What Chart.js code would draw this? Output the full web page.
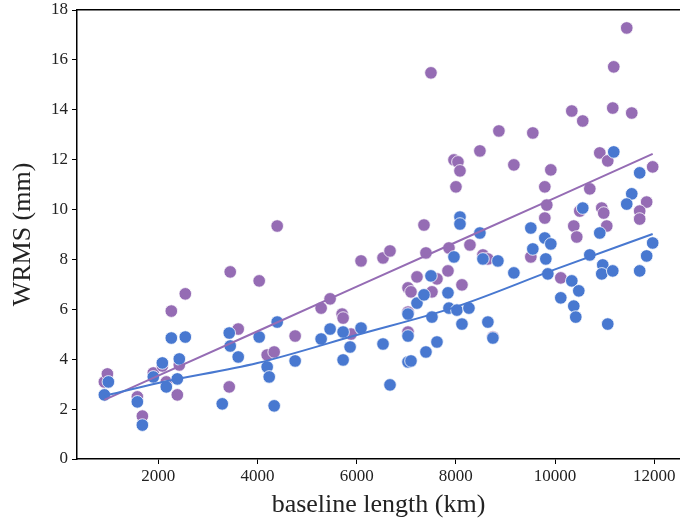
<!DOCTYPE html>
<html>
<head>
<meta charset="utf-8">
<script src="https://cdn.jsdelivr.net/npm/chart.js@4/dist/chart.umd.min.js"></script>
<style>
  html, body { margin: 0; padding: 0; background: #fff; }
  #wrap { width: 680px; height: 523px; }
</style>
</head>
<body>
<div id="wrap"><canvas id="myChart" width="680" height="523"></canvas></div>
<script>
// purple series (baseline km, WRMS mm)
const purpleX = [912, 973, 1577, 1678, 1899, 2081, 2161, 2383, 2423, 2262, 2544, 3450, 4034, 3430, 3611, 4195, 4336, 4397, 4759, 5283,
  5464, 5706, 5726, 5887, 6088, 6531, 6672, 7035, 7095, 7216, 7619, 7518, 7841, 8123, 7035, 7035, 7357, 7397, 7861, 8284,
  8546, 8646, 8747, 7498, 7962, 8042, 8083, 8002, 8485, 8868, 9552, 9170, 9915, 9794, 9834, 9794, 9512, 10338, 10559, 11164,
  11547, 11184, 11446, 10701, 10902, 11063, 11969, 11848, 11707, 11707, 10942, 10982, 11043, 10378, 10438, 10499, 10116];
const purpleY = [3.09, 3.41, 2.49, 1.72, 3.45, 3.73, 3.09, 2.57, 3.77, 5.93, 6.62, 7.50, 7.14, 2.89, 5.21, 4.17, 4.29, 9.34, 4.93, 6.05,
  6.42, 5.81, 5.65, 5.01, 7.94, 8.06, 8.34, 6.86, 6.70, 7.30, 7.22, 6.70, 7.54, 6.98, 5.89, 5.09, 9.38, 8.26, 8.46, 8.58,
  8.18, 8.02, 4.89, 15.48, 11.99, 11.91, 11.55, 10.91, 12.35, 13.15, 13.07, 11.79, 11.59, 10.91, 10.18, 9.66, 8.10, 13.95, 13.55, 14.07,
  13.87, 15.72, 17.28, 10.83, 12.27, 11.95, 11.71, 10.30, 9.94, 9.62, 10.06, 9.86, 9.34, 9.34, 8.90, 9.94, 7.26];

// blue series
const blueX = [912, 993, 1577, 1678, 1899, 2081, 2161, 2383, 2423, 2262, 2544, 3430, 3450, 3611, 3289, 4034, 4397, 4195, 4236, 4336,
  4759, 5283, 5464, 5726, 5726, 5867, 6088, 6531, 6672, 7035, 7035, 7035, 7095, 7216, 7357, 7498, 7518, 7397, 7619, 7841,
  7861, 8022, 8123, 8264, 7962, 8083, 8083, 8485, 8546, 8646, 8747, 8848, 9170, 9512, 9552, 9794, 9915, 9814, 9855, 10116,
  10338, 10479, 10378, 10418, 10701, 10902, 10962, 10942, 11164, 11063, 11707, 11848, 11969, 11184, 11707, 11547, 11446, 10559];
const blueY = [2.57, 3.09, 2.29, 1.36, 3.29, 3.85, 2.89, 3.21, 4.01, 4.85, 4.89, 5.05, 4.53, 4.09, 2.21, 4.89, 5.49, 3.69, 3.29, 2.13,
  3.93, 4.81, 5.21, 5.09, 3.97, 4.49, 5.25, 4.61, 2.97, 5.81, 4.93, 3.89, 3.93, 6.25, 6.58, 7.34, 5.69, 4.29, 4.69, 6.66,
  6.05, 5.97, 5.41, 6.05, 8.10, 9.70, 9.42, 9.06, 8.02, 5.49, 4.85, 7.94, 7.46, 9.26, 8.42, 8.86, 8.62, 8.02, 7.42, 6.46,
  7.14, 6.74, 6.13, 5.69, 8.18, 9.06, 7.78, 7.42, 7.54, 5.41, 7.54, 8.14, 8.66, 12.31, 11.47, 10.63, 10.22, 10.06];

// fit lines
const fitX = [912, 2000, 4000, 6000, 8000, 10000, 11969];
const purpleFit = [2.37, 3.34, 5.12, 6.91, 8.69, 10.47, 12.23];
const blueFit = [2.53, 3.05, 3.85, 4.97, 6.10, 7.60, 9.02];

const xTicks = [2000, 4000, 6000, 8000, 10000, 12000];
const yTicks = [0, 2, 4, 6, 8, 10, 12, 14, 16, 18];

const PURPLE = '#956cb4';
const BLUE = '#4878d0';

const pts = (xs, ys) => xs.map((x, i) => ({x: x, y: ys[i]}));

const ctx = document.getElementById('myChart');
const serif = 'Liberation Serif, DejaVu Serif, serif';

new Chart(ctx, {
  data: {
    datasets: [
      {type: 'scatter', data: pts(purpleX, purpleY), backgroundColor: PURPLE, borderColor: '#fff',
        borderWidth: 0.8, pointRadius: 6.3, order: 4},
      {type: 'scatter', data: pts(blueX, blueY), backgroundColor: BLUE, borderColor: '#fff',
        borderWidth: 0.8, pointRadius: 6.3, order: 3},
      {type: 'line', data: pts(fitX, purpleFit), borderColor: PURPLE, borderWidth: 2,
        pointRadius: 0, fill: false, order: 2},
      {type: 'line', data: pts(fitX, blueFit), borderColor: BLUE, borderWidth: 2,
        pointRadius: 0, fill: false, cubicInterpolationMode: 'monotone', order: 1}
    ]
  },
  options: {
    responsive: false,
    animation: false,
    layout: {padding: 0, autoPadding: false},
    plugins: {legend: {display: false}, tooltip: {enabled: false}},
    scales: {
      x: {
        type: 'linear', min: 360, max: 12520,
        afterBuildTicks: s => { s.ticks = xTicks.map(v => ({value: v})); },
        afterFit: s => { s.height = 64; s.paddingLeft = 0; s.paddingRight = 0; },
        border: {color: '#000', width: 1.5},
        grid: {drawOnChartArea: false, color: '#000', tickLength: 5},
        ticks: {color: '#222', font: {family: serif, size: 17}, maxRotation: 0, autoSkip: false,
          padding: 2, callback: v => String(v)},
        title: {display: true, text: 'baseline length (km)', color: '#222',
          font: {family: serif, size: 26}, padding: {top: 0, bottom: 2}}
      },
      xTop: {
        type: 'linear', position: 'top', min: 360, max: 12520,
        afterFit: s => { s.height = 10; s.paddingLeft = 0; s.paddingRight = 0; },
        border: {color: '#000', width: 1.5},
        grid: {display: false},
        ticks: {display: false}
      },
      y: {
        min: 0, max: 18,
        afterBuildTicks: s => { s.ticks = yTicks.map(v => ({value: v})); },
        afterFit: s => { s.width = 77; s.paddingTop = 0; s.paddingBottom = 0; },
        border: {color: '#000', width: 1.5},
        grid: {drawOnChartArea: false, color: '#000', tickLength: 5},
        ticks: {color: '#222', font: {family: serif, size: 17}, autoSkip: false, padding: 4},
        title: {display: true, text: 'WRMS (mm)', color: '#222',
          font: {family: serif, size: 26}, padding: {top: 8, bottom: 0}}
      }
    }
  }
});
</script>
</body>
</html>
